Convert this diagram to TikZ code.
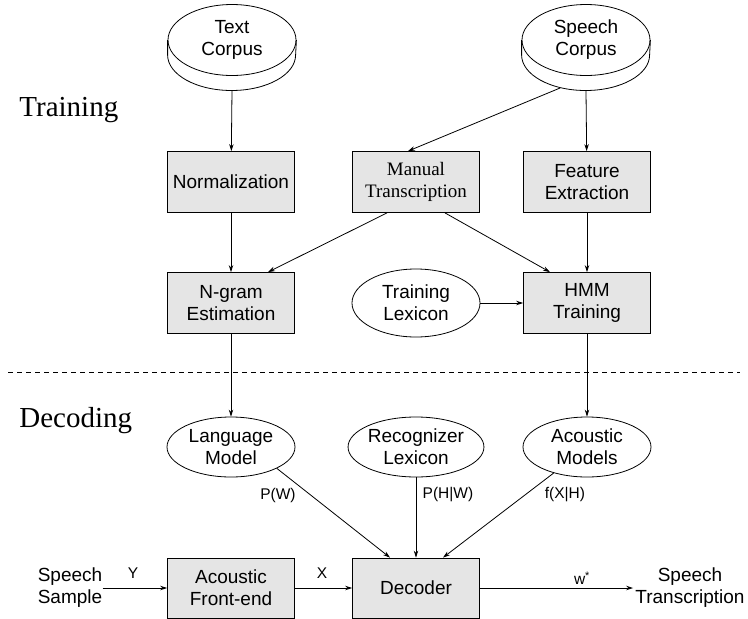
\documentclass[tikz,border=0pt]{standalone}
\usepackage{fontspec}
\setmainfont{Liberation Serif}
\setsansfont{Liberation Sans}
\usetikzlibrary{shapes.geometric,arrows.meta}
\def\fontB{\sffamily\fontsize{19}{22}\selectfont}
\def\fontS{\sffamily\fontsize{15.5}{18}\selectfont}
\tikzset{
	boxA/.style={
		draw, fill=gray!20, inner sep=0pt, align=center,
		minimum width=127pt, minimum height=61pt, font={\fontB}
	},
	ellA/.style={
		draw, ellipse, inner sep=0pt, align=center,
		minimum width=128pt, minimum height=60pt, font={\fontB}
	},
	diskA/.style={ellA, minimum height=71pt},
	labA/.style={inner sep=0pt, font={\fontS}},
	textA/.style={inner sep=0pt, align=center, font={\fontB}},
	partA/.style={inner sep=0pt, anchor=base west, font={\fontsize{29}{34}\selectfont}},
	>={Stealth[length=7pt,width=4.5pt]},
}
\def\rimD{15}

\begin{document}
\begin{tikzpicture}[x=1pt, y=-1pt, line width=0.8pt]
\useasboundingbox (0,0) rectangle (748,619);
% training part
\node[diskA] (tc) at (232,40) {Text\\Corpus};
\node[diskA] (sc) at (586,40) {Speech\\Corpus};
\draw (tc.west) -- ++(0,\rimD) arc[start angle=180, end angle=360, x radius=64pt, y radius=35.5pt] -- (tc.east);
\draw (sc.west) -- ++(0,\rimD) arc[start angle=180, end angle=360, x radius=64pt, y radius=35.5pt] -- (sc.east);
\node[partA] (trn) at (19,116) {Training};

\node[boxA] (nm) at (231,182) {Normalization};
\node[boxA, font={\rmfamily\fontsize{19}{22}\selectfont}] (mt) at (416,182) {Manual\\Transcription};
\node[boxA] (fe) at (587,182) {Feature\\Extraction};
\node[boxA] (ng) at (231,303) {N-gram\\Estimation};
\node[ellA, minimum height=68pt] (tl) at (416,303) {Training\\Lexicon};
\node[boxA] (hm) at (587,303) {HMM\\Training};

\draw[->] ([yshift=-\rimD pt]tc.south) -- (nm);
\draw[->] ([yshift=-\rimD pt]sc.-128) -- ([xshift=-8pt]mt.north);
\draw[->] ([yshift=-\rimD pt]sc.south) -- (fe);
\draw[->] (nm) -- (ng);
\draw[->] ([xshift=-29pt]mt.south) -- ([xshift=37pt]ng.north);
\draw[->] ([xshift=29pt]mt.south) -- ([xshift=-37pt]hm.north);
\draw[->] (fe) -- (hm);
\draw[->] (tl) -- (hm);

\draw[dash pattern=on 5pt off 4pt] (8,372) -- (740,372);

% decoding part
\node[partA] (dcd) at (19,427) {Decoding};
\node[ellA] (lm) at (231,447) {Language\\Model};
\node[ellA] (rl) at (416,447) {Recognizer\\Lexicon};
\node[ellA] (am) at (587,447) {Acoustic\\Models};
\node[boxA, minimum height=60pt] (af) at (231,588) {Acoustic\\Front-end};
\node[boxA, minimum height=60pt] (dc) at (416,588) {Decoder};
\node[textA] (ss) at (70,588) {Speech\\Sample};
\node[textA, inner sep=2pt] (st) at (690,588) {Speech\\Transcription};

\draw[->] (ng) -- (lm);
\draw[->] (hm) -- (am);
\draw[->] (lm.-25) -- ([xshift=-26pt]dc.north);
\draw[->] (rl) -- (dc);
\draw[->] (am.-142) -- ([xshift=27pt]dc.north);
\draw[->] (ss) -- (af);
\draw[->] (af) -- (dc);
\draw[->] (dc) -- (st);

\node[labA] (lY) at (133,573) {Y};
\node[labA] (lX) at (322,573) {X};
\node[labA] (lw) at (582,578) {w\textsuperscript{*}};
\node[labA] (lpw) at (278,495) {P(W)};
\node[labA] (lph) at (448,495) {P(H|W)};
\node[labA] (lfx) at (565,495) {f(X|H)};
\end{tikzpicture}
\end{document}
